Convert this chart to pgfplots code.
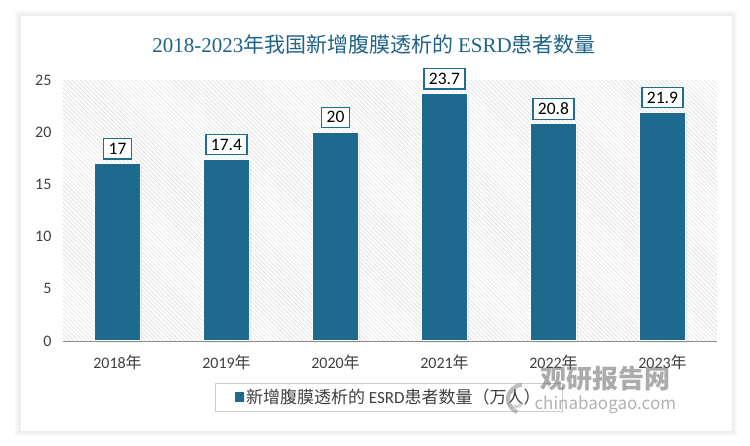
\documentclass[border=0pt]{standalone}
\usepackage{fontspec}
\usepackage{pgfplots}
\pgfplotsset{compat=1.18}
\usetikzlibrary{patterns.meta,shadows}
\setmainfont{Carlito}
\newfontfamily\cjk{Noto Sans CJK SC}
\newfontfamily\titlefont{Liberation Serif}
\definecolor{barblue}{HTML}{1D6A8E}
\definecolor{titleblue}{HTML}{1F6389}
\definecolor{boxblue}{HTML}{1F6E92}
\definecolor{ticktext}{HTML}{404040}

\begin{document}
\begin{tikzpicture}[x=1pt,y=1pt]
% page and card
\fill[white] (0,0) rectangle (750,445);
\fill[black!3] (15,9) rectangle (737,434);
\fill[black!6] (17,11) rectangle (735,432);
\fill[white,draw=black!8] (20,14) rectangle (732,430);

\node[text=titleblue,font=\fontsize{21}{24}\selectfont] at (374,400)
  {{\titlefont 2018-2023}{\cjk 年我国新增腹膜透析的} {\titlefont ESRD}{\cjk 患者数量}};

\begin{axis}[
    at={(63pt,104pt)}, anchor=south west,
    scale only axis,
    width=654pt, height=261pt,
    ybar, bar width=46pt,
    xmin=-0.5, xmax=5.5,
    ymin=0, ymax=25,
    xtick=data,
    xticklabels={2018{\cjk 年},2019{\cjk 年},2020{\cjk 年},2021{\cjk 年},2022{\cjk 年},2023{\cjk 年}},
    ytick={0,5,10,15,20,25},
    major tick length=0pt,
    axis line style={draw=none},
    axis background/.style={pattern={Lines[angle=-45,distance=3pt,line width=0.45pt]},pattern color=black!16},
    xticklabel style={font=\fontsize{16}{18}\selectfont,text=ticktext,yshift=-10pt},
    yticklabel style={font=\fontsize{16}{18}\selectfont,text=ticktext,xshift=-8pt},
    /pgf/number format/assume math mode=true,
    nodes near coords,
    every node near coord/.append style={font=\fontsize{17.5}{20}\selectfont,text=black,fill=white,draw=boxblue,line width=1.2pt,inner xsep=5pt,inner ysep=4.5pt,yshift=4pt},
    legend style={at={(0.232,-0.16)},anchor=north west,draw=black!20,fill=white,
        font=\cjk\fontsize{17}{19}\selectfont,text=ticktext,inner xsep=20pt,inner ysep=4pt},
    legend image code/.code={\fill[barblue] (2pt,-4pt) rectangle (10pt,4pt);},
    clip=false,
]
\addplot[fill=barblue,draw=white,line width=1.2pt,
  drop shadow={opacity=0.2,shadow xshift=1.5pt,shadow yshift=-1.5pt}] coordinates {
  (0,17) (1,17.4) (2,20) (3,23.7) (4,20.8) (5,21.9)
};
\addlegendentry{新增腹膜透析的 {\fontspec{Carlito}ESRD}患者数量（万人）}
\draw[black!45,line width=1pt] (axis cs:-0.5,0) -- (axis cs:5.5,0);
\end{axis}

% watermark
\begin{scope}[opacity=0.55]
\draw[black!45,line width=4pt] (522,60) arc (90:250:14);
\draw[black!30,line width=3pt] (514,54) arc (100:330:8);
\node[text=black!60,font=\cjk\bfseries\fontsize{26}{28}\selectfont,anchor=west] at (537,66) {观研报告网};
\node[text=black!55,font=\cjk\fontsize{17}{19}\selectfont,anchor=west] at (531,40) {chinabaogao.com};
\end{scope}
\end{tikzpicture}
\end{document}
